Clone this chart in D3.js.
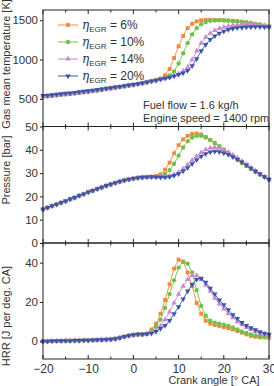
<html><head>
<meta charset="UTF-8">
<title>EGR rate - temperature, pressure, HRR</title>
<style>
  body { margin: 0; padding: 0; background: #fff; }
  svg text { font-family: "Liberation Sans", Arial, sans-serif; fill: #333; }
</style>
</head>
<body>
<div id="chart"></div>
<script src="https://cdn.jsdelivr.net/npm/d3@7/dist/d3.min.js"></script>
<script>
  const width = 274;
  const height = 386;

  // crank angle, one point per degree
  const crank = d3.range(-20, 31);
  const legendLabels = ["6%", "10%", "14%", "20%"];
  const colors = ["#ef8a3a", "#72bf4a", "#c88ad2", "#3b55a8"];

  // gas mean temperature [K]
  const tempBase = [530, 535, 541, 547, 553, 559, 565, 571, 578, 585, 592, 600, 608, 617, 626,
    635, 644, 653, 662, 671, 680, 690, 700, 712, 724, 737];
  const tempTail6 = [760, 800, 880, 1020, 1170, 1300, 1400, 1455, 1485, 1500, 1505, 1505, 1505,
    1503, 1500, 1497, 1493, 1488, 1482, 1475, 1465, 1455, 1445, 1432, 1420];
  const tempTail10 = [752, 770, 800, 850, 950, 1080, 1210, 1320, 1400, 1450, 1478, 1492, 1498,
    1500, 1498, 1495, 1490, 1485, 1478, 1470, 1462, 1452, 1442, 1430, 1420];
  const tempTail14 = [748, 760, 775, 795, 820, 855, 905, 1000, 1110, 1210, 1285, 1335, 1370,
    1395, 1412, 1425, 1435, 1442, 1446, 1448, 1447, 1443, 1437, 1428, 1418];
  const tempTail20 = [750, 762, 775, 790, 808, 830, 860, 920, 1010, 1110, 1190, 1255, 1300,
    1335, 1360, 1380, 1393, 1402, 1408, 1412, 1414, 1415, 1415, 1414, 1412];
  const tempBase20 = [542, 547, 552, 558, 564, 570, 576, 582, 589, 596, 603, 610, 618, 626, 634,
    642, 650, 658, 666, 675, 684, 693, 703, 714, 726, 738];

  // pressure [bar]
  const presBase = [14.5, 15.2, 15.9, 16.6, 17.3, 18.0, 18.8, 19.5, 20.3, 21.0, 21.8, 22.5, 23.2,
    23.9, 24.6, 25.2, 25.8, 26.4, 26.9, 27.3, 27.7, 28.0, 28.2, 28.3, 28.4];
  const presTail6 = [28.8, 29.5, 31.5, 34.5, 38.5, 42.0, 44.5, 46.0, 46.8, 47.0, 46.6, 45.5, 44.2,
    42.8, 41.4, 40.0, 38.6, 37.2, 35.8, 34.4, 33.1, 31.8, 30.6, 29.4, 28.3, 27.3];
  const presTail10 = [28.5, 28.8, 29.6, 31.3, 34.0, 37.5, 41.0, 43.7, 45.3, 46.0, 46.0, 45.3, 44.2,
    42.9, 41.5, 40.1, 38.7, 37.3, 35.9, 34.5, 33.2, 31.9, 30.7, 29.5, 28.4, 27.3];
  const presTail14 = [28.4, 28.4, 28.5, 28.8, 29.4, 30.4, 31.8, 33.6, 35.5, 37.3, 38.9, 40.1, 40.8,
    41.0, 40.7, 40.0, 39.0, 37.8, 36.5, 35.1, 33.7, 32.3, 31.0, 29.7, 28.5, 27.3];
  const presTail20 = [28.3, 28.2, 28.2, 28.4, 28.9, 29.7, 30.9, 32.3, 34.0, 35.7, 37.2, 38.3, 39.0,
    39.3, 39.1, 38.6, 37.9, 37.0, 35.9, 34.7, 33.4, 32.1, 30.8, 29.6, 28.4, 27.2];

  // heat release rate [J per deg. CA]
  const hrrBase = [0, 0, 0.1, 0.2, 0.2, 0.3, 0.3, 0.4, 0.4, 0.5, 0.5, 0.6, 0.7, 0.8, 0.9, 1.0,
    1.3, 1.8, 2.4, 2.9, 3.3, 3.5, 3.5, 3.8];
  const hrrTail6 = [6, 9, 14, 21, 29, 37, 41.5, 40.5, 35, 28, 19.5, 14, 10.5, 9, 8.3, 7.8, 7.2,
    6.6, 6, 5.2, 4.4, 3.5, 2.7, 2.3, 2.0, 1.9, 1.8];
  const hrrTail10 = [5, 7.5, 11, 17, 24, 31, 37.5, 40.5, 39.5, 35, 26, 18, 13, 10.5, 9.5, 9, 8.5,
    7.8, 7, 6, 5, 4.2, 3.5, 3, 2.6, 2.4, 2.2];
  const hrrTail14 = [4.5, 5.5, 8, 11, 15, 19.5, 24, 28, 31.5, 33.5, 33.5, 31.5, 28.5, 25.5, 22,
    19, 16.5, 14, 12, 10, 8.5, 7, 6, 5, 4.2, 3.5, 3];
  const hrrTail20 = [4, 5, 6.5, 8, 10.5, 14, 17.5, 21.5, 25.5, 29, 31.5, 32, 30, 27, 24, 21, 18.5,
    16, 13.5, 11.5, 9.5, 8, 6.8, 5.8, 4.8, 4, 3.5];

  const tempSeries = [
    tempBase.concat(tempTail6), tempBase.concat(tempTail10),
    tempBase.concat(tempTail14), tempBase20.concat(tempTail20)
  ];
  const presSeries = [
    presBase.concat(presTail6), presBase.concat(presTail10),
    presBase.concat(presTail14), presBase.concat(presTail20)
  ];
  const hrrSeries = [
    hrrBase.concat(hrrTail6), hrrBase.concat(hrrTail10),
    hrrBase.concat(hrrTail14), hrrBase.concat(hrrTail20)
  ];

  const tempTicks = [500, 1000, 1500];
  const presTicks = [0, 10, 20, 30, 40, 50];
  const hrrTicks = [0, 20, 40];
  const xTicks = [-20, -10, 0, 10, 20, 30];

  const left = 43, right = 269;

  const svg = d3.select("#chart").append("svg")
    .attr("width", width)
    .attr("height", height);

  const x = d3.scaleLinear().domain([-20, 30]).range([left, right]);

  const panels = [
    { data: tempSeries, domain: [150, 1630], top: 10, bottom: 126.5, ticks: tempTicks,
      label: "Gas mean temperature [K]", labelY: 64 },
    { data: presSeries, domain: [0, 50], top: 126.5, bottom: 243, ticks: presTicks,
      label: "Pressure [bar]", labelY: 170 },
    { data: hrrSeries, domain: [-9, 50], top: 243, bottom: 359, ticks: hrrTicks,
      label: "HRR [J per deg. CA]", labelY: 316 }
  ];

  const symbols = [d3.symbolSquare, d3.symbolCircle, d3.symbolTriangle, d3.symbolTriangle];
  const symbolSizes = [15, 15, 13, 13];

  function marker(sel, i) {
    sel.append("path")
      .attr("d", d3.symbol().type(symbols[i]).size(symbolSizes[i]))
      .attr("fill", colors[i])
      .attr("transform", d => `translate(${d[0]},${d[1]})` + (i === 3 ? " rotate(180)" : ""));
  }

  const minorX = d3.range(-15, 30, 10);

  panels.forEach((p, pi) => {
    const y = d3.scaleLinear().domain(p.domain).range([p.bottom, p.top]);
    const g = svg.append("g");

    // series (drawn so the high EGR rates sit on top)
    p.data.forEach((vals, i) => {
      const pts = crank.map((c, k) => [x(c), y(vals[k])]);
      g.append("path")
        .attr("d", d3.line()(pts))
        .attr("fill", "none")
        .attr("stroke", colors[i])
        .attr("stroke-width", 0.9);
      const m = g.append("g").selectAll("g").data(pts).enter().append("g");
      marker(m, i);
    });

    // frame
    g.append("rect")
      .attr("x", left).attr("y", p.top)
      .attr("width", right - left).attr("height", p.bottom - p.top)
      .attr("fill", "none").attr("stroke", "#222").attr("stroke-width", 1);

    // inward x ticks top & bottom
    xTicks.concat(minorX).forEach(v => {
      const len = xTicks.includes(v) ? 4 : 2.5;
      g.append("line").attr("x1", x(v)).attr("x2", x(v))
        .attr("y1", p.bottom).attr("y2", p.bottom - len).attr("stroke", "#222");
      g.append("line").attr("x1", x(v)).attr("x2", x(v))
        .attr("y1", p.top).attr("y2", p.top + len).attr("stroke", "#222");
    });

    // y axis
    const yAxis = d3.axisLeft(y).tickValues(p.ticks).tickSize(3).tickPadding(2)
      .tickFormat(d3.format("d"));
    const ax = svg.append("g").attr("transform", `translate(${left},0)`).call(yAxis);
    ax.select(".domain").remove();
    ax.selectAll(".tick line").attr("stroke", "#222");
    ax.selectAll(".tick text").attr("font-size", 11.5).attr("fill", "#333")
      .style("font-family", "'Liberation Sans', Arial, sans-serif");

    svg.append("text")
      .attr("transform", `translate(10,${p.labelY}) rotate(-90)`)
      .attr("text-anchor", "middle")
      .attr("font-size", 11)
      .text(p.label);
  });

  // x axis labels
  const xAxis = d3.axisBottom(x).tickValues(xTicks).tickSize(0).tickPadding(5)
    .tickFormat(d => d < 0 ? "\u2212" + Math.abs(d) : d);
  const xg = svg.append("g").attr("transform", "translate(0,359)").call(xAxis);
  xg.select(".domain").remove();
  xg.selectAll(".tick text").attr("font-size", 12).attr("fill", "#333")
    .style("font-family", "'Liberation Sans', Arial, sans-serif");

  svg.append("text")
    .attr("x", 214).attr("y", 384)
    .attr("text-anchor", "middle")
    .attr("font-size", 11)
    .text("Crank angle [\u00b0 CA]");

  // annotation
  svg.append("text").attr("x", 143).attr("y", 109).attr("font-size", 11)
    .text("Fuel flow = 1.6 kg/h");
  svg.append("text").attr("x", 143).attr("y", 122).attr("font-size", 11)
    .text("Engine speed = 1400 rpm");

  // legend
  const legendY = [25, 42, 59, 76];
  legendLabels.forEach((lab, i) => {
    const lg = svg.append("g");
    lg.append("line").attr("x1", 58).attr("x2", 78)
      .attr("y1", legendY[i]).attr("y2", legendY[i])
      .attr("stroke", colors[i]).attr("stroke-width", 1);
    marker(lg.append("g").datum([68, legendY[i]]), i);
    const t = lg.append("text").attr("x", 82).attr("y", legendY[i] + 4).attr("font-size", 12);
    t.append("tspan").attr("font-style", "italic").attr("font-family", "'DejaVu Serif', serif").text("\u03b7");
    t.append("tspan").attr("font-size", 8).attr("dy", 2.5).text("EGR");
    t.append("tspan").attr("dy", -2.5).text(" = " + lab);
  });
</script>
</body></html>
